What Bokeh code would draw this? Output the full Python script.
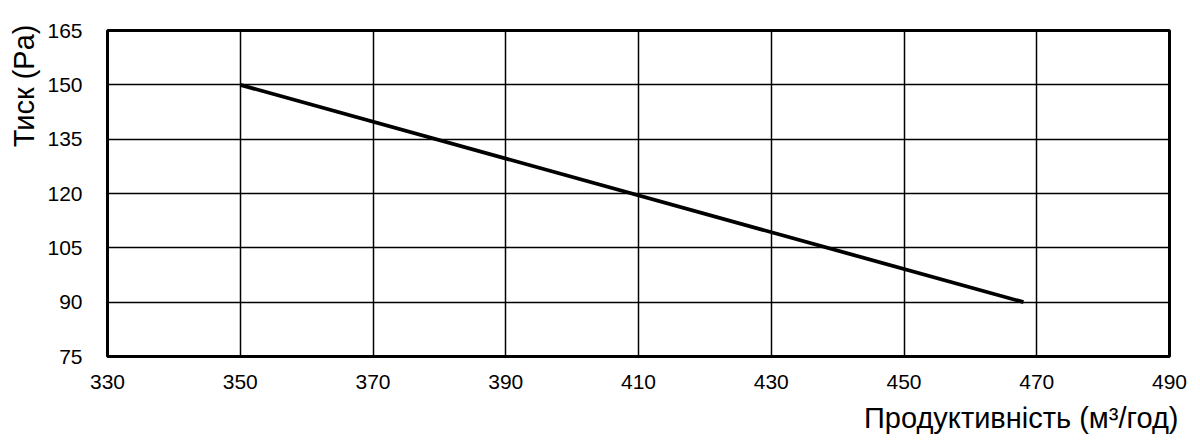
from bokeh.plotting import figure
from bokeh.models import FixedTicker, Title
from bokeh.embed import file_html
from bokeh.resources import INLINE

# Data
flow = [350, 468]          # м³/год
pressure = [150, 90]       # Pa
x_ticks = [330, 350, 370, 390, 410, 430, 450, 470, 490]
y_ticks = [75, 90, 105, 120, 135, 150, 165]

FONT = "Liberation Sans"

p = figure(width=1200, height=444, x_range=(330, 490), y_range=(75, 165),
           output_backend="svg", toolbar_location=None,
           min_border_left=105, min_border_right=31, min_border_top=30, min_border_bottom=88)

p.line(flow, pressure, line_color="black", line_width=3.8)

p.xaxis.ticker = FixedTicker(ticks=x_ticks)
p.yaxis.ticker = FixedTicker(ticks=y_ticks)
for ax in (p.xaxis[0], p.yaxis[0]):
    ax.major_tick_line_color = None
    ax.minor_tick_line_color = None
    ax.axis_line_color = None
    ax.major_label_text_font = FONT
    ax.major_label_text_font_size = "21px"
    ax.major_label_text_color = "black"
p.yaxis.major_label_standoff = 19
p.xaxis.major_label_standoff = 12

p.xgrid.ticker = FixedTicker(ticks=x_ticks)
p.ygrid.ticker = FixedTicker(ticks=y_ticks)
p.grid.grid_line_color = "black"
p.grid.grid_line_width = 1.5
p.grid.grid_line_alpha = 1.0

p.outline_line_color = "black"
p.outline_line_width = 3
p.outline_line_alpha = 1.0

xt = Title(text="Продуктивність (м³/год)", align="right", offset=-9, standoff=16,
           text_font=FONT, text_font_size="29px", text_font_style="normal", text_color="black")
p.add_layout(xt, "below")
yt = Title(text="Тиск (Pa)", align="right", offset=-6, text_font=FONT,
           text_font_size="29px", text_font_style="normal", text_color="black")
p.add_layout(yt, "left")

open("out.html", "w").write(file_html(p, INLINE))
